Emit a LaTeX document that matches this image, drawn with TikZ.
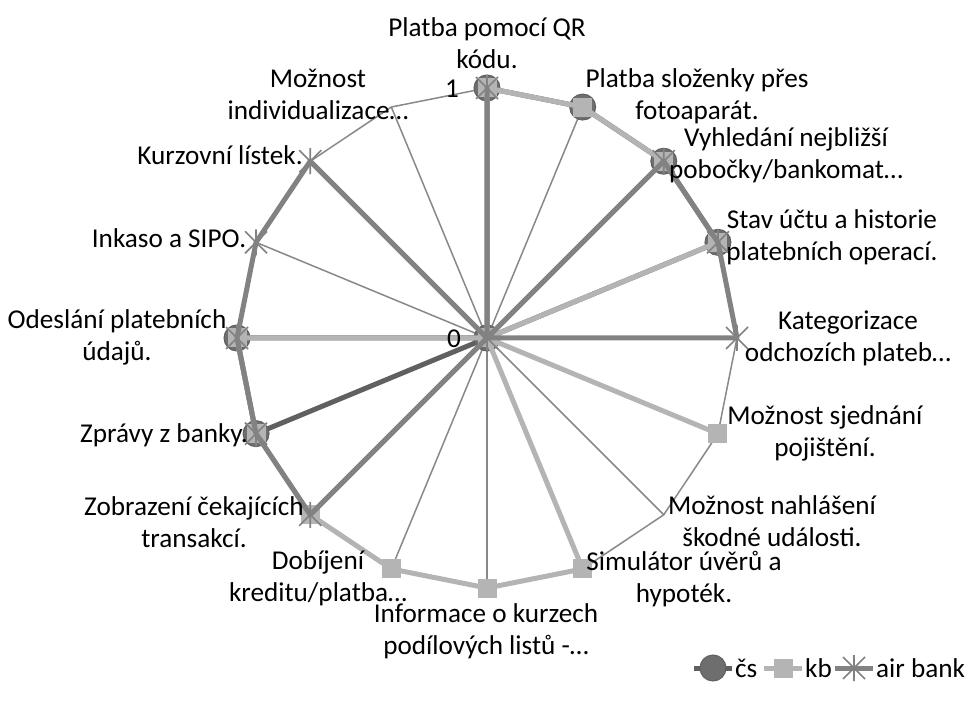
\documentclass[tikz,border=0pt]{standalone}
\usepackage{fontspec}
\setmainfont{Carlito}
\definecolor{gridgray}{HTML}{888888}
\definecolor{csgray}{HTML}{606060}
\definecolor{csfill}{HTML}{6E6E6E}
\definecolor{kbgray}{HTML}{B4B4B4}
\definecolor{abgray}{HTML}{828282}
\tikzset{
  lbl/.style={inner sep=0pt, align=center, font=\fontsize{27.2}{32}\selectfont},
  spoke/.style={draw=gridgray, line width=1.5pt},
  series/.style={line width=5pt, line join=round, line cap=round},
  csmark/.style={circle, minimum size=26pt, inner sep=0pt, fill=csfill, draw=csgray, line width=1pt},
  kbmark/.style={rectangle, minimum size=19pt, inner sep=0pt, fill=kbgray},
  abmark/.pic={\draw[abgray, line width=1.6pt] (-11,-11)--(11,11) (-11,11)--(11,-11) (0,-13)--(0,13);}
}
\begin{document}
\begin{tikzpicture}[x=1pt, y=-1pt]
\useasboundingbox (0,0) rectangle (975,708);
\coordinate (C) at (487,338);
\foreach \k in {0,...,15}
  \coordinate (v\k) at ([shift={(487,338)}]{22.5*\k-90}:250);

% grid: spokes and outer ring
\foreach \k in {0,...,15}
  \draw[spoke] (C) -- (v\k);
\draw[spoke, line join=round] (v0)--(v1)--(v2)--(v3)--(v4)--(v5)--(v6)--(v7)--(v8)--(v9)--(v10)--(v11)--(v12)--(v13)--(v14)--(v15)--cycle;

% series cs
\draw[series, csgray] (v0)--(v1)--(v2)--(v3)--(C)--(v11)--(v12)--(C)--cycle;
\foreach \k in {0,1,2,3,11,12}
  \node[csmark] (cs\k) at (v\k) {};
\node[csmark] (cs0c) at (C) {};

% series kb
\draw[series, kbgray] (v0)--(v1)--(v2)--(v3)--(C)--(v5)--(C)--(v7)--(v8)--(v9)--(v10)--(v11)--(v12)--(C)--cycle;
\foreach \k in {0,1,2,3,5,7,8,9,10,11,12}
  \node[kbmark] (kb\k) at (v\k) {};
\node[kbmark] (kb0c) at (C) {};

% series air bank
\draw[series, abgray] (v0)--(C)--(v2)--(v3)--(v4)--(C)--(v10)--(v11)--(v12)--(v13)--(v14)--(C)--cycle;
\foreach \k in {0,2,3,4,10,11,12,13,14}
  \pic at (v\k) {abmark};
\pic at (C) {abmark};

% axis values
\node[lbl] (t1) at (452,89) {1};
\node[lbl] (t0) at (454,339) {0};

% category labels
\node[lbl] (c0) at (487,43) {Platba pomocí QR\\kódu.};
\node[lbl] (c1) at (697,96) {Platba složenky přes\\fotoaparát.};
\node[lbl] (c2) at (786,155) {Vyhledání nejbližší\\pobočky/bankomat…};
\node[lbl] (c3) at (832,237) {Stav účtu a historie\\platebních operací.};
\node[lbl] (c4) at (848,338) {Kategorizace\\odchozích plateb…};
\node[lbl] (c5) at (825,433) {Možnost sjednání\\pojištění.};
\node[lbl] (c6) at (772,521) {Možnost nahlášení\\škodné události.};
\node[lbl] (c7) at (684,579) {Simulátor úvěrů a\\hypoték.};
\node[lbl] (c8) at (486,631) {Informace o kurzech\\podílových listů -…};
\node[lbl] (c9) at (318,578) {Dobíjení\\kreditu/platba…};
\node[lbl] (c10) at (194,522) {Zobrazení čekajících\\transakcí.};
\node[lbl] (c11) at (164,435) {Zprávy z banky.};
\node[lbl] (c12) at (117,337) {Odeslání platebních\\údajů.};
\node[lbl] (c13) at (169,238) {Inkaso a SIPO.};
\node[lbl] (c14) at (220,155) {Kurzovní lístek.};
\node[lbl] (c15) at (318,94) {Možnost\\individualizace…};

% legend
\coordinate (la) at (694,668);
\coordinate (lb) at (732,668);
\draw[series, csgray, line cap=butt] (la) -- (lb);
\node[csmark] (lcs) at (713,668) {};
\node[lbl, anchor=west] (tcs) at (735,668) {čs};
\coordinate (lc) at (764,668);
\coordinate (ld) at (802,668);
\draw[series, kbgray, line cap=butt] (lc) -- (ld);
\node[kbmark] (lkb) at (783,668) {};
\node[lbl, anchor=west] (tkb) at (805,668) {kb};
\coordinate (le) at (835,668);
\coordinate (lf) at (873,668);
\draw[series, abgray, line cap=butt] (le) -- (lf);
\pic at (854,668) {abmark};
\node[lbl, anchor=west] (tab) at (876,668) {air bank};
\end{tikzpicture}
\end{document}
